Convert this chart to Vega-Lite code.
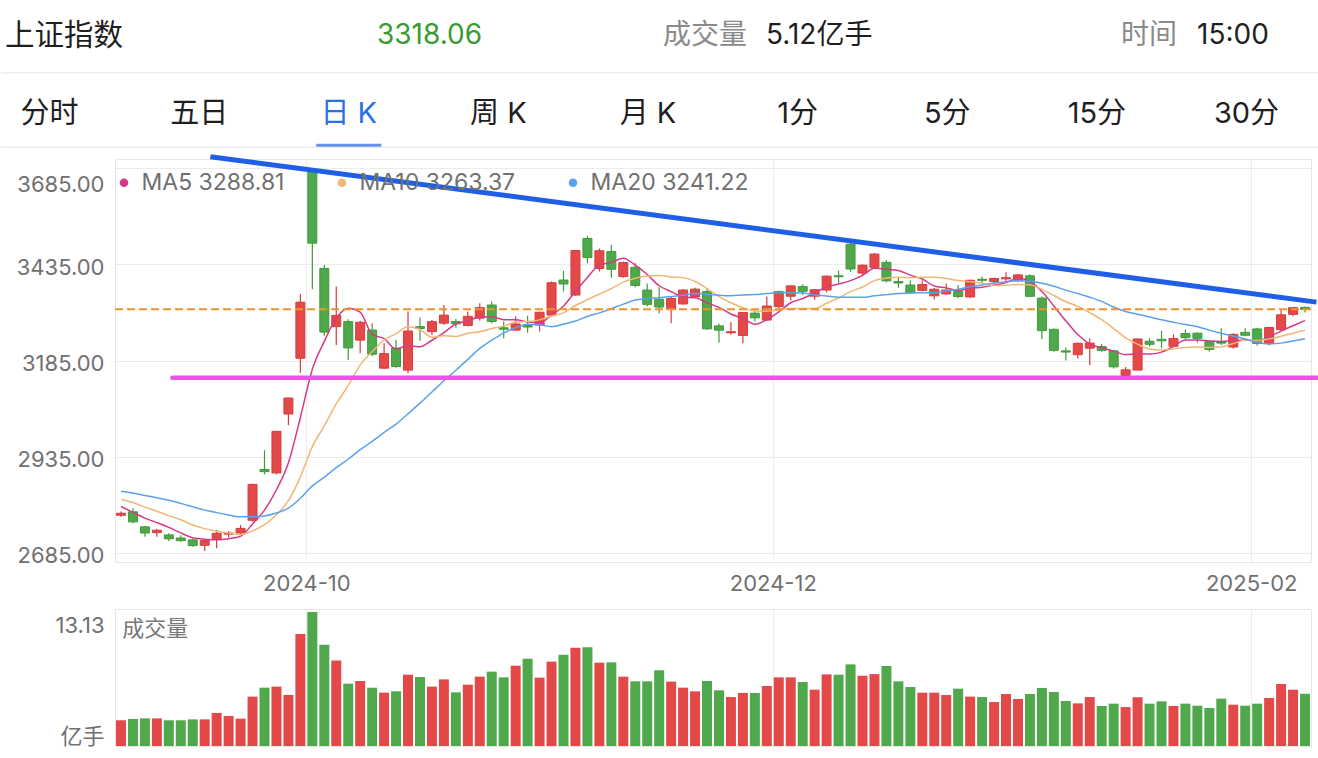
{
  "$schema": "https://vega.github.io/schema/vega-lite/v6.json",
  "padding": 0,
  "background": "white",
  "bounds": "flush",
  "spacing": 47,
  "resolve": {"scale": {"color": "independent"}, "legend": {"color": "independent"}},
  "config": {
    "font": "Inter, 'Noto Sans CJK SC', sans-serif",
    "view": {"stroke": "#e6e6e6", "strokeWidth": 1},
    "axis": {"labelFont": "Inter, 'Noto Sans CJK SC', sans-serif", "labelFontSize": 22, "labelColor": "#707070", "gridColor": "#ececec", "gridWidth": 1, "domain": false, "ticks": false, "tickSize": 0},
    "text": {"font": "Inter, 'Noto Sans CJK SC', sans-serif"}
  },
  "datasets": {
    "k": [
      {"i":0,"d":"2024-09-05","o":2783,"h":2793,"l":2779,"c":2788.31,"v":2.52,"ma5":2805.76,"ma10":2824.80,"ma20":2845.47},
      {"i":1,"d":"2024-09-06","o":2792,"h":2801,"l":2762,"c":2765.81,"v":2.65,"ma5":2790.48,"ma10":2815.94,"ma20":2840.65},
      {"i":2,"d":"2024-09-09","o":2753,"h":2756,"l":2727,"c":2736.85,"v":2.71,"ma5":2775.65,"ma10":2804.08,"ma20":2834.59},
      {"i":3,"d":"2024-09-10","o":2738,"h":2748,"l":2727,"c":2744.19,"v":2.71,"ma5":2763.89,"ma10":2793.62,"ma20":2828.40},
      {"i":4,"d":"2024-09-11","o":2732,"h":2736,"l":2716,"c":2721.80,"v":2.52,"ma5":2751.39,"ma10":2782.06,"ma20":2821.96},
      {"i":5,"d":"2024-09-12","o":2724,"h":2731,"l":2714,"c":2717.12,"v":2.52,"ma5":2737.15,"ma10":2771.46,"ma20":2813.94},
      {"i":6,"d":"2024-09-13","o":2719,"h":2722,"l":2701,"c":2704.09,"v":2.61,"ma5":2724.81,"ma10":2757.65,"ma20":2805.18},
      {"i":7,"d":"2024-09-18","o":2705,"h":2719,"l":2690,"c":2717.28,"v":2.61,"ma5":2720.90,"ma10":2748.27,"ma20":2796.36},
      {"i":8,"d":"2024-09-19","o":2722,"h":2745,"l":2697,"c":2736.02,"v":3.24,"ma5":2719.26,"ma10":2741.58,"ma20":2789.82},
      {"i":9,"d":"2024-09-20","o":2734,"h":2742,"l":2726,"c":2736.81,"v":2.94,"ma5":2722.26,"ma10":2736.83,"ma20":2783.84},
      {"i":10,"d":"2024-09-23","o":2737,"h":2758,"l":2734,"c":2748.92,"v":2.68,"ma5":2728.62,"ma10":2732.89,"ma20":2778.84},
      {"i":11,"d":"2024-09-24","o":2770,"h":2865,"l":2766,"c":2863.13,"v":4.84,"ma5":2760.43,"ma10":2742.62,"ma20":2779.28},
      {"i":12,"d":"2024-09-25","o":2902,"h":2952,"l":2889,"c":2896.31,"v":5.72,"ma5":2796.24,"ma10":2758.57,"ma20":2781.32},
      {"i":13,"d":"2024-09-26","o":2893,"h":3001,"l":2889,"c":3000.95,"v":5.82,"ma5":2849.22,"ma10":2784.24,"ma20":2788.93},
      {"i":14,"d":"2024-09-27","o":3046,"h":3088,"l":3017,"c":3087.53,"v":5.00,"ma5":2919.37,"ma10":2820.82,"ma20":2801.44},
      {"i":15,"d":"2024-09-30","o":3191,"h":3358,"l":3153,"c":3336.50,"v":10.98,"ma5":3036.88,"ma10":2882.75,"ma20":2827.11},
      {"i":16,"d":"2024-10-08","o":3674.4,"h":3674.4,"l":3370,"c":3489.78,"v":13.13,"ma5":3162.21,"ma10":2961.32,"ma20":2859.49},
      {"i":17,"d":"2024-10-09","o":3424,"h":3433,"l":3249,"c":3258.86,"v":9.93,"ma5":3234.72,"ma10":3015.48,"ma20":2881.88},
      {"i":18,"d":"2024-10-10","o":3273,"h":3377,"l":3225,"c":3301.93,"v":8.37,"ma5":3294.92,"ma10":3072.07,"ma20":2906.82},
      {"i":19,"d":"2024-10-11","o":3286,"h":3292,"l":3186,"c":3217.74,"v":6.11,"ma5":3320.96,"ma10":3120.17,"ma20":2928.50},
      {"i":20,"d":"2024-10-14","o":3238,"h":3288,"l":3204,"c":3284.32,"v":6.37,"ma5":3310.53,"ma10":3173.71,"ma20":2953.30},
      {"i":21,"d":"2024-10-15","o":3264,"h":3282,"l":3196,"c":3201.29,"v":5.72,"ma5":3252.83,"ma10":3207.52,"ma20":2975.07},
      {"i":22,"d":"2024-10-16","o":3165,"h":3230,"l":3163,"c":3202.95,"v":5.23,"ma5":3241.65,"ma10":3238.19,"ma20":2998.38},
      {"i":23,"d":"2024-10-17","o":3217,"h":3238,"l":3166,"c":3169.38,"v":5.36,"ma5":3215.14,"ma10":3255.03,"ma20":3019.64},
      {"i":24,"d":"2024-10-18","o":3160,"h":3312,"l":3152,"c":3261.56,"v":6.99,"ma5":3223.90,"ma10":3272.43,"ma20":3046.62},
      {"i":25,"d":"2024-10-21","o":3273,"h":3297,"l":3236,"c":3268.11,"v":6.76,"ma5":3220.66,"ma10":3265.59,"ma20":3074.17},
      {"i":26,"d":"2024-10-22","o":3260,"h":3290,"l":3251,"c":3285.87,"v":5.82,"ma5":3237.57,"ma10":3245.20,"ma20":3103.26},
      {"i":27,"d":"2024-10-23","o":3282,"h":3329,"l":3277,"c":3302.80,"v":6.53,"ma5":3257.54,"ma10":3249.60,"ma20":3132.54},
      {"i":28,"d":"2024-10-24","o":3286,"h":3293,"l":3270,"c":3280.26,"v":5.26,"ma5":3279.72,"ma10":3247.43,"ma20":3159.75},
      {"i":29,"d":"2024-10-25","o":3276,"h":3312,"l":3273,"c":3299.70,"v":6.01,"ma5":3287.35,"ma10":3255.62,"ma20":3187.89},
      {"i":30,"d":"2024-10-28","o":3295,"h":3334,"l":3289,"c":3322.20,"v":6.80,"ma5":3298.17,"ma10":3259.41,"ma20":3216.56},
      {"i":31,"d":"2024-10-29","o":3329,"h":3338,"l":3281,"c":3286.41,"v":7.29,"ma5":3298.27,"ma10":3267.92,"ma20":3237.72},
      {"i":32,"d":"2024-10-30","o":3270,"h":3286,"l":3243,"c":3266.24,"v":6.73,"ma5":3290.96,"ma10":3274.25,"ma20":3256.22},
      {"i":33,"d":"2024-10-31","o":3264,"h":3300,"l":3262,"c":3279.82,"v":7.87,"ma5":3290.87,"ma10":3285.30,"ma20":3270.16},
      {"i":34,"d":"2024-11-01","o":3277,"h":3301,"l":3257,"c":3272.01,"v":8.56,"ma5":3285.34,"ma10":3286.34,"ma20":3279.39},
      {"i":35,"d":"2024-11-04","o":3277,"h":3312,"l":3260,"c":3310.21,"v":6.70,"ma5":3282.94,"ma10":3290.55,"ma20":3278.07},
      {"i":36,"d":"2024-11-05","o":3303,"h":3390,"l":3300,"c":3386.99,"v":8.27,"ma5":3303.05,"ma10":3300.66,"ma20":3272.93},
      {"i":37,"d":"2024-11-06","o":3394,"h":3418,"l":3364,"c":3383.81,"v":8.95,"ma5":3326.57,"ma10":3308.77,"ma20":3279.18},
      {"i":38,"d":"2024-11-07","o":3355,"h":3471,"l":3353,"c":3470.66,"v":9.64,"ma5":3364.74,"ma10":3327.81,"ma20":3287.62},
      {"i":39,"d":"2024-11-08","o":3502,"h":3509,"l":3438,"c":3452.30,"v":9.67,"ma5":3400.79,"ma10":3343.07,"ma20":3299.34},
      {"i":40,"d":"2024-11-11","o":3424,"h":3476,"l":3416,"c":3470.07,"v":8.17,"ma5":3432.77,"ma10":3357.85,"ma20":3308.63},
      {"i":41,"d":"2024-11-12","o":3468,"h":3485,"l":3400,"c":3421.97,"v":8.20,"ma5":3439.76,"ma10":3371.41,"ma20":3319.67},
      {"i":42,"d":"2024-11-13","o":3403,"h":3442,"l":3400,"c":3439.28,"v":6.80,"ma5":3450.86,"ma10":3388.71,"ma20":3331.48},
      {"i":43,"d":"2024-11-14","o":3427,"h":3438,"l":3375,"c":3379.84,"v":6.34,"ma5":3432.69,"ma10":3398.71,"ma20":3342.01},
      {"i":44,"d":"2024-11-15","o":3368,"h":3385,"l":3325,"c":3330.73,"v":6.34,"ma5":3408.38,"ma10":3404.59,"ma20":3345.46},
      {"i":45,"d":"2024-11-18","o":3344,"h":3375,"l":3307,"c":3323.85,"v":7.42,"ma5":3379.13,"ma10":3405.95,"ma20":3348.25},
      {"i":46,"d":"2024-11-19","o":3318,"h":3350,"l":3282,"c":3346.01,"v":6.31,"ma5":3363.94,"ma10":3401.85,"ma20":3351.26},
      {"i":47,"d":"2024-11-20","o":3332,"h":3371,"l":3330,"c":3367.99,"v":5.72,"ma5":3349.68,"ma10":3400.27,"ma20":3354.52},
      {"i":48,"d":"2024-11-21","o":3350,"h":3374,"l":3348,"c":3370.40,"v":5.36,"ma5":3347.80,"ma10":3390.24,"ma20":3359.02},
      {"i":49,"d":"2024-11-22","o":3364,"h":3373,"l":3264,"c":3267.19,"v":6.37,"ma5":3335.09,"ma10":3371.73,"ma20":3357.40},
      {"i":50,"d":"2024-11-25","o":3275,"h":3281,"l":3231,"c":3263.76,"v":5.46,"ma5":3323.07,"ma10":3351.10,"ma20":3354.48},
      {"i":51,"d":"2024-11-26","o":3257,"h":3285,"l":3252,"c":3259.76,"v":4.80,"ma5":3305.82,"ma10":3334.88,"ma20":3353.14},
      {"i":52,"d":"2024-11-27","o":3250,"h":3310,"l":3230,"c":3309.78,"v":5.20,"ma5":3294.18,"ma10":3321.93,"ma20":3355.32},
      {"i":53,"d":"2024-11-28","o":3308,"h":3313,"l":3286,"c":3295.70,"v":5.20,"ma5":3279.24,"ma10":3313.52,"ma20":3356.12},
      {"i":54,"d":"2024-11-29","o":3290,"h":3351,"l":3288,"c":3326.46,"v":5.88,"ma5":3291.09,"ma10":3313.09,"ma20":3358.84},
      {"i":55,"d":"2024-12-02","o":3325,"h":3366,"l":3320,"c":3363.98,"v":6.73,"ma5":3311.14,"ma10":3317.10,"ma20":3361.53},
      {"i":56,"d":"2024-12-03","o":3352,"h":3380,"l":3341,"c":3378.81,"v":6.73,"ma5":3334.95,"ma10":3320.38,"ma20":3361.12},
      {"i":57,"d":"2024-12-04","o":3377,"h":3383,"l":3355,"c":3364.65,"v":6.27,"ma5":3345.92,"ma10":3320.05,"ma20":3360.16},
      {"i":58,"d":"2024-12-05","o":3352,"h":3371,"l":3343,"c":3368.86,"v":5.52,"ma5":3360.55,"ma10":3319.90,"ma20":3355.07},
      {"i":59,"d":"2024-12-06","o":3368,"h":3406,"l":3362,"c":3404.08,"v":7.02,"ma5":3376.08,"ma10":3333.58,"ma20":3352.66},
      {"i":60,"d":"2024-12-09","o":3405,"h":3418,"l":3386,"c":3402.53,"v":6.99,"ma5":3383.79,"ma10":3347.46,"ma20":3349.28},
      {"i":61,"d":"2024-12-10","o":3487,"h":3494,"l":3415,"c":3422.66,"v":8.00,"ma5":3392.56,"ma10":3363.75,"ma20":3349.32},
      {"i":62,"d":"2024-12-11","o":3412,"h":3435,"l":3404,"c":3432.49,"v":6.89,"ma5":3406.12,"ma10":3376.02,"ma20":3348.98},
      {"i":63,"d":"2024-12-12","o":3427,"h":3464,"l":3424,"c":3461.50,"v":7.05,"ma5":3424.65,"ma10":3392.60,"ma20":3353.06},
      {"i":64,"d":"2024-12-13","o":3440,"h":3446,"l":3388,"c":3391.88,"v":7.84,"ma5":3422.21,"ma10":3399.14,"ma20":3356.12},
      {"i":65,"d":"2024-12-16","o":3390,"h":3400,"l":3374,"c":3386.33,"v":6.34,"ma5":3418.97,"ma10":3401.38,"ma20":3359.24},
      {"i":66,"d":"2024-12-17","o":3381,"h":3393,"l":3358,"c":3361.49,"v":5.78,"ma5":3406.74,"ma10":3399.65,"ma20":3360.02},
      {"i":67,"d":"2024-12-18","o":3367,"h":3393,"l":3365,"c":3382.21,"v":5.23,"ma5":3396.68,"ma10":3401.40,"ma20":3360.73},
      {"i":68,"d":"2024-12-19","o":3353,"h":3373,"l":3344,"c":3370.03,"v":5.23,"ma5":3378.39,"ma10":3401.52,"ma20":3360.71},
      {"i":69,"d":"2024-12-20","o":3358,"h":3385,"l":3355,"c":3368.07,"v":5.00,"ma5":3373.63,"ma10":3397.92,"ma20":3365.75},
      {"i":70,"d":"2024-12-23","o":3365,"h":3381,"l":3347,"c":3351.26,"v":5.62,"ma5":3366.61,"ma10":3392.79,"ma20":3370.13},
      {"i":71,"d":"2024-12-24","o":3350,"h":3395,"l":3348,"c":3393.53,"v":4.84,"ma5":3373.02,"ma10":3389.88,"ma20":3376.82},
      {"i":72,"d":"2024-12-25","o":3396,"h":3403,"l":3383,"c":3393.35,"v":4.80,"ma5":3375.25,"ma10":3385.97,"ma20":3380.99},
      {"i":73,"d":"2024-12-26","o":3390,"h":3400,"l":3385,"c":3398.08,"v":4.31,"ma5":3380.86,"ma10":3379.62,"ma20":3386.11},
      {"i":74,"d":"2024-12-27","o":3397,"h":3414,"l":3390,"c":3400.14,"v":5.10,"ma5":3387.27,"ma10":3380.45,"ma20":3389.80},
      {"i":75,"d":"2024-12-30","o":3393,"h":3410,"l":3388,"c":3407.33,"v":4.61,"ma5":3398.49,"ma10":3382.55,"ma20":3391.96},
      {"i":76,"d":"2024-12-31","o":3405,"h":3409,"l":3350,"c":3351.76,"v":5.10,"ma5":3390.13,"ma10":3381.58,"ma20":3390.61},
      {"i":77,"d":"2025-01-02","o":3347,"h":3351,"l":3240,"c":3262.56,"v":5.69,"ma5":3363.97,"ma10":3369.61,"ma20":3385.51},
      {"i":78,"d":"2025-01-03","o":3266,"h":3268,"l":3208,"c":3211.43,"v":5.29,"ma5":3326.64,"ma10":3353.75,"ma20":3377.64},
      {"i":79,"d":"2025-01-06","o":3210,"h":3219,"l":3185,"c":3206.92,"v":4.41,"ma5":3288.00,"ma10":3337.64,"ma20":3367.78},
      {"i":80,"d":"2025-01-07","o":3200,"h":3232,"l":3190,"c":3229.64,"v":4.18,"ma5":3252.46,"ma10":3325.47,"ma20":3359.13},
      {"i":81,"d":"2025-01-08","o":3217,"h":3243,"l":3173,"c":3230.17,"v":4.80,"ma5":3228.14,"ma10":3309.14,"ma20":3349.51},
      {"i":82,"d":"2025-01-09","o":3221,"h":3228,"l":3208,"c":3211.39,"v":3.92,"ma5":3217.91,"ma10":3290.94,"ma20":3338.45},
      {"i":83,"d":"2025-01-10","o":3210,"h":3213,"l":3164,"c":3168.52,"v":4.15,"ma5":3209.33,"ma10":3267.99,"ma20":3323.80},
      {"i":84,"d":"2025-01-13","o":3146,"h":3168,"l":3141,"c":3160.76,"v":3.82,"ma5":3200.10,"ma10":3244.05,"ma20":3312.25},
      {"i":85,"d":"2025-01-14","o":3160,"h":3242,"l":3160,"c":3240.94,"v":4.77,"ma5":3202.36,"ma10":3227.41,"ma20":3304.98},
      {"i":86,"d":"2025-01-15","o":3235,"h":3243,"l":3221,"c":3227.12,"v":4.15,"ma5":3201.75,"ma10":3214.95,"ma20":3298.26},
      {"i":87,"d":"2025-01-16","o":3240,"h":3262,"l":3217,"c":3236.03,"v":4.38,"ma5":3206.67,"ma10":3212.29,"ma20":3290.95},
      {"i":88,"d":"2025-01-17","o":3222,"h":3253,"l":3220,"c":3241.82,"v":3.92,"ma5":3221.33,"ma10":3215.33,"ma20":3284.54},
      {"i":89,"d":"2025-01-20","o":3255,"h":3266,"l":3240,"c":3244.38,"v":4.15,"ma5":3238.06,"ma10":3219.08,"ma20":3278.36},
      {"i":90,"d":"2025-01-21","o":3256,"h":3258,"l":3232,"c":3242.62,"v":3.95,"ma5":3238.39,"ma10":3220.38,"ma20":3272.92},
      {"i":91,"d":"2025-01-22","o":3234,"h":3237,"l":3208,"c":3213.62,"v":3.73,"ma5":3235.69,"ma10":3218.72,"ma20":3263.93},
      {"i":92,"d":"2025-01-23","o":3233,"h":3269,"l":3225,"c":3230.16,"v":4.64,"ma5":3234.52,"ma10":3220.60,"ma20":3255.77},
      {"i":93,"d":"2025-01-24","o":3220,"h":3256,"l":3216,"c":3252.63,"v":4.05,"ma5":3236.68,"ma10":3229.01,"ma20":3248.50},
      {"i":94,"d":"2025-01-27","o":3258,"h":3269,"l":3248,"c":3250.60,"v":3.95,"ma5":3237.93,"ma10":3237.99,"ma20":3241.02},
      {"i":95,"d":"2025-02-05","o":3267,"h":3270,"l":3224,"c":3229.49,"v":4.15,"ma5":3235.30,"ma10":3236.85,"ma20":3232.13},
      {"i":96,"d":"2025-02-06","o":3229,"h":3271,"l":3224,"c":3270.66,"v":4.71,"ma5":3246.71,"ma10":3241.20,"ma20":3228.07},
      {"i":97,"d":"2025-02-07","o":3265,"h":3318,"l":3261,"c":3303.67,"v":6.08,"ma5":3261.41,"ma10":3247.97,"ma20":3230.13},
      {"i":98,"d":"2025-02-10","o":3305,"h":3323,"l":3300,"c":3322.17,"v":5.52,"ma5":3275.32,"ma10":3256.00,"ma20":3235.67},
      {"i":99,"d":"2025-02-11","o":3323,"h":3325,"l":3310,"c":3318.06,"v":5.12,"ma5":3288.81,"ma10":3263.37,"ma20":3241.22}
    ],
    "info": [
      {"t":"上证指数","ln":0,"col":0,"kind":"name"},
      {"t":"3318.06","ln":0,"col":1,"kind":"price"},
      {"t":"成交量","ln":0,"col":2,"kind":"label"},
      {"t":"5.12亿手","ln":0,"col":3,"kind":"value"},
      {"t":"时间","ln":0,"col":4,"kind":"label"},
      {"t":"15:00","ln":0,"col":5,"kind":"value"}
    ],
    "tabs": [
      {"t":"分时","ln":2,"col":0,"active":false},
      {"t":"五日","ln":2,"col":1,"active":false},
      {"t":"日 K","ln":2,"col":2,"active":true},
      {"t":"周 K","ln":2,"col":3,"active":false},
      {"t":"月 K","ln":2,"col":4,"active":false},
      {"t":"1分","ln":2,"col":5,"active":false},
      {"t":"5分","ln":2,"col":6,"active":false},
      {"t":"15分","ln":2,"col":7,"active":false},
      {"t":"30分","ln":2,"col":8,"active":false}
    ],
    "seps": [{"ln":1},{"ln":4}],
    "trend": [
      {"line":"resistance","i1":7.47,"p1":3714.4,"i2":99.96,"p2":3336.6},
      {"line":"support","i1":4.3,"p1":3140.4,"i2":99.98,"p2":3140.4}
    ],
    "last": [{"price":3318.06}],
    "panel": [{"t":"成交量"}],
    "legendkeys": [{"s":"ma5"},{"s":"ma10"},{"s":"ma20"}]
  },
  "vconcat": [
    {
      "width": 1196,
      "height": 112,
      "view": {"stroke": null},
      "resolve": {"scale": {"x": "independent"}},
      "layer": [
        {
          "data": {"name": "seps"},
          "mark": {"type": "rule", "color": "#ececec", "strokeWidth": 1.5},
          "encoding": {
            "x": {"datum": 0, "type": "quantitative", "scale": {"domain": [0, 1], "range": [-114, 1204], "nice": false, "zero": false}, "axis": null},
            "x2": {"datum": 1},
            "y": {"field": "ln", "type": "quantitative", "scale": {"domain": [0, 1, 2, 3, 4], "range": [35.5, 72.7, 114, 145.3, 147.2], "nice": false, "zero": false}, "axis": null}
          }
        },
        {
          "data": {"name": "info"},
          "mark": {"type": "text", "align": "left", "baseline": "middle"},
          "encoding": {
            "x": {"field": "col", "type": "quantitative", "scale": {"domain": [0, 1, 2, 3, 4, 5], "range": [-110, 262, 548, 651, 1006, 1082], "nice": false, "zero": false}, "axis": null},
            "y": {"field": "ln", "type": "quantitative"},
            "text": {"field": "t"},
            "size": {"condition": {"test": "datum.kind == 'name'", "value": 29.5}, "value": 28},
            "color": {"condition": [{"test": "datum.kind == 'price'", "value": "#3a9b32"}, {"test": "datum.kind == 'label'", "value": "#8a8a8a"}], "value": "#1f1f1f"}
          }
        },
        {
          "data": {"name": "tabs"},
          "mark": {"type": "text", "align": "center", "baseline": "middle", "fontSize": 29},
          "encoding": {
            "x": {"field": "col", "type": "quantitative", "scale": {"domain": [0, 8], "range": [-65.5, 1131.5], "nice": false, "zero": false}, "axis": null},
            "y": {"field": "ln", "type": "quantitative"},
            "text": {"field": "t"},
            "color": {"condition": {"test": "datum.active", "value": "#2f6fe4"}, "value": "#1f1f1f"}
          }
        },
        {
          "data": {"name": "tabs"},
          "transform": [{"filter": "datum.active"}],
          "mark": {"type": "tick", "orient": "horizontal", "size": 65, "thickness": 3, "color": "#2a64dc"},
          "encoding": {
            "x": {"field": "col", "type": "quantitative", "scale": {"domain": [0, 8], "range": [-65.5, 1131.5], "nice": false, "zero": false}, "axis": null},
            "y": {"datum": 3, "type": "quantitative"}
          }
        }
      ]
    },
    {
      "width": 1196,
      "height": 403,
      "layer": [
        {
          "data": {"name": "legendkeys"},
          "transform": [{"filter": "datum.s == 'none'"}],
          "mark": {"type": "circle", "opacity": 1},
          "encoding": {
            "x": {"field": "i", "type": "quantitative", "scale": {"domain": [-0.5, 99.5], "nice": false, "zero": false, "padding": 0},
                  "axis": {"values": [15.5, 54.5, 94.5], "labelExpr": "datum.value < 30 ? '2024-10' : datum.value < 80 ? '2024-12' : '2025-02'", "grid": true, "labelPadding": 11, "labelFlush": false, "title": null}},
            "y": {"field": "m", "type": "quantitative", "scale": {"domain": [2661.6, 3708.4], "nice": false, "zero": false, "padding": 0},
                  "axis": {"values": [2685, 2935, 3185, 3435, 3685], "format": ".2f", "grid": true, "title": null, "labelPadding": 11,
                           "labelOffset": {"condition": {"test": "datum.value == 3685", "value": 16}, "value": 3}}},
            "color": {"field": "s", "type": "nominal",
                      "scale": {"domain": ["ma5", "ma10", "ma20"], "range": ["#d63a86", "#f1b675", "#5aa2ee"]},
                      "legend": {"orient": "none", "legendX": -2.5, "legendY": 12, "direction": "horizontal", "title": null, "padding": 0,
                                 "symbolType": "circle", "symbolSize": 50, "symbolOpacity": 1, "labelFontSize": 23, "labelColor": "#707070", "labelFont": "Inter, 'Noto Sans CJK SC', sans-serif",
                                 "labelOffset": 6, "columnPadding": 46, "labelLimit": 400,
                                 "labelExpr": "datum.label == 'ma5' ? 'MA5 3288.81' : datum.label == 'ma10' ? 'MA10 3263.37' : 'MA20 3241.22'"}}
          }
        },
        {
          "data": {"name": "k"},
          "mark": {"type": "rule", "strokeWidth": 1.2},
          "encoding": {
            "x": {"field": "i", "type": "quantitative"},
            "y": {"field": "l", "type": "quantitative"},
            "y2": {"field": "h"},
            "color": {"condition": {"test": "datum.c >= datum.o", "value": "#d63c3c"}, "value": "#3f9b3c"}
          }
        },
        {
          "data": {"name": "k"},
          "mark": {"type": "bar", "width": 9, "strokeWidth": 1},
          "encoding": {
            "x": {"field": "i", "type": "quantitative"},
            "y": {"field": "o", "type": "quantitative"},
            "y2": {"field": "c"},
            "fill": {"condition": {"test": "datum.c >= datum.o", "value": "#e4494a"}, "value": "#4fa84b"},
            "stroke": {"condition": {"test": "datum.c >= datum.o", "value": "#d63c3c"}, "value": "#3f9b3c"}
          }
        },
        {
          "data": {"name": "k"},
          "transform": [{"fold": ["ma5", "ma10", "ma20"], "as": ["s", "m"]}],
          "mark": {"type": "line", "strokeWidth": 1.5, "interpolate": "monotone"},
          "encoding": {
            "x": {"field": "i", "type": "quantitative"},
            "y": {"field": "m", "type": "quantitative"},
            "color": {"field": "s", "type": "nominal"}
          }
        },
        {
          "data": {"name": "last"},
          "mark": {"type": "rule", "color": "#f0922b", "strokeWidth": 2, "strokeDash": [8, 4]},
          "encoding": {"y": {"field": "price", "type": "quantitative"}}
        },
        {
          "data": {"name": "trend"},
          "transform": [{"filter": "datum.line == 'support'"}],
          "mark": {"type": "rule", "color": "#e955e9", "strokeWidth": 4.5, "strokeCap": "round"},
          "encoding": {
            "x": {"field": "i1", "type": "quantitative"},
            "x2": {"field": "i2"},
            "y": {"field": "p1", "type": "quantitative"},
            "y2": {"field": "p2"}
          }
        },
        {
          "data": {"name": "trend"},
          "transform": [{"filter": "datum.line == 'resistance'"}],
          "mark": {"type": "rule", "color": "#1f5fe8", "strokeWidth": 5},
          "encoding": {
            "x": {"field": "i1", "type": "quantitative"},
            "x2": {"field": "i2"},
            "y": {"field": "p1", "type": "quantitative"},
            "y2": {"field": "p2"}
          }
        }
      ]
    },
    {
      "width": 1196,
      "height": 137,
      "layer": [
        {
          "data": {"name": "k"},
          "mark": {"type": "bar", "width": 10},
          "encoding": {
            "x": {"field": "i", "type": "quantitative", "scale": {"domain": [-0.5, 99.5], "nice": false, "zero": false, "padding": 0},
                  "axis": {"values": [15.5, 54.5, 94.5], "labels": false, "grid": true, "title": null}},
            "y": {"field": "v", "type": "quantitative", "scale": {"domain": [0, 13.43], "nice": false, "zero": false, "padding": 0},
                  "axis": {"values": [0, 13.13], "grid": false, "title": null, "labelPadding": 11,
                           "labelExpr": "datum.value == 0 ? '亿手' : '13.13'",
                           "labelOffset": {"condition": {"test": "datum.value == 0", "value": -10}, "value": 13}}},
            "fill": {"condition": {"test": "datum.c >= datum.o", "value": "#e4494a"}, "value": "#4fa84b"}
          }
        },
        {
          "data": {"name": "panel"},
          "mark": {"type": "text", "align": "left", "baseline": "middle", "fontSize": 22, "color": "#777777"},
          "encoding": {
            "x": {"datum": 0.1, "type": "quantitative"},
            "y": {"datum": 11.47, "type": "quantitative"},
            "text": {"field": "t"}
          }
        }
      ]
    }
  ]
}
